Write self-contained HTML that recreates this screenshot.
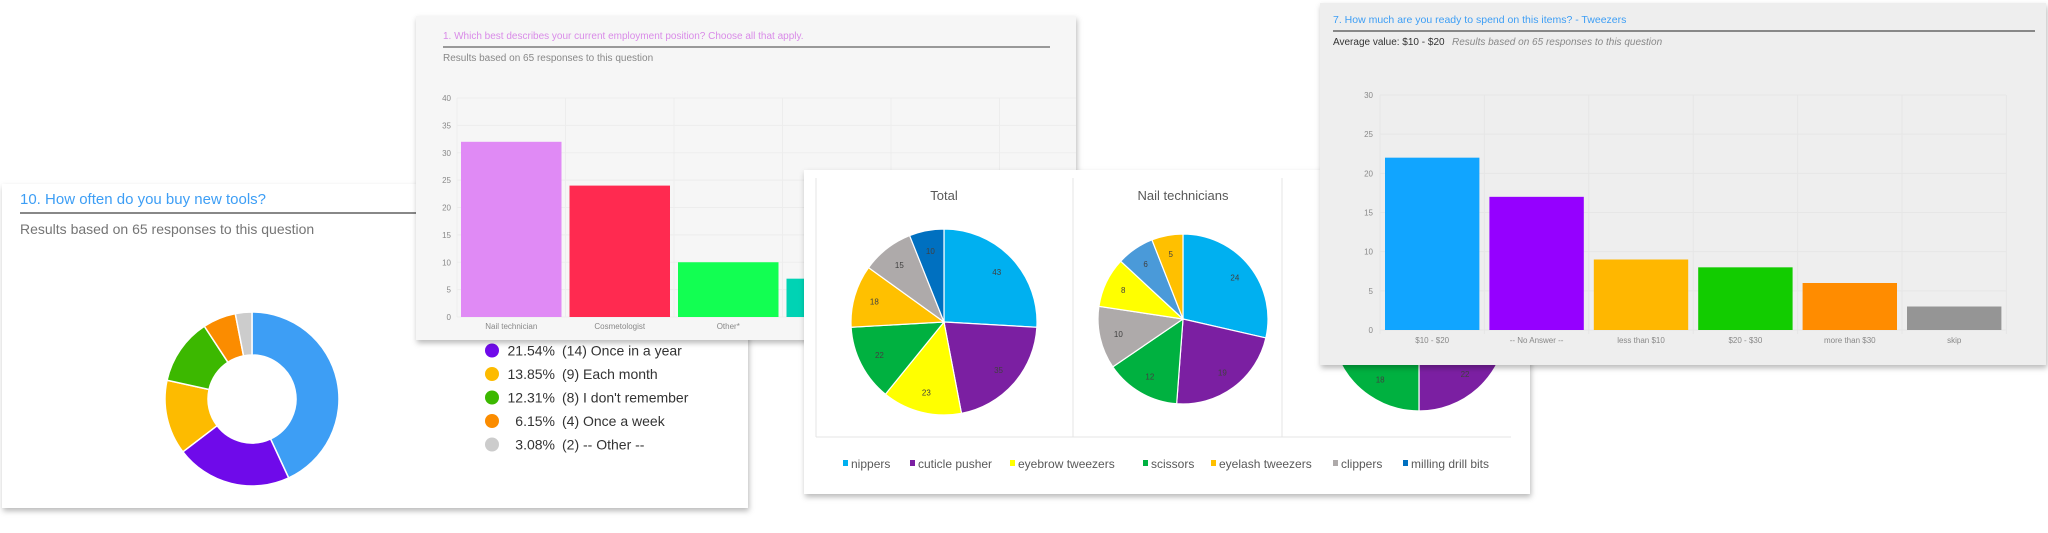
<!DOCTYPE html>
<html><head><meta charset="utf-8">
<style>
html,body{margin:0;padding:0;background:#fff;}
body{width:2048px;height:528px;overflow:hidden;position:relative;font-family:"Liberation Sans",sans-serif;}
svg text{font-family:"Liberation Sans",sans-serif;}
</style></head>
<body>
<svg id="stage" width="2048" height="528" viewBox="0 0 2048 528" xmlns="http://www.w3.org/2000/svg">
<defs>
<filter id="sh" x="-5%" y="-5%" width="110%" height="115%"><feDropShadow dx="1" dy="3" stdDeviation="3" flood-color="#000" flood-opacity="0.28"/></filter>
</defs>
</svg>
<script>
// ---- donut (panel A) ----
const donutLabels = ["-- blue --","Once in a year","Each month","I don't remember","Once a week","-- Other --"];
const donutCounts = [28,14,9,8,4,2];
const donutPcts = ["43.08%","21.54%","13.85%","12.31%","6.15%","3.08%"];
const donutColors = ["#3d9ef5","#6f0aea","#fdbb00","#3cb800","#fb8c00","#cccccc"];
// ---- bar chart B ----
const empCats = ["Nail technician","Cosmetologist","Other*","Student"];
const empVals = [32,24,10,7];
const empColors = ["#e08af5","#ff2a50","#12ff52","#00d3b4"];
const empTicks = [0,5,10,15,20,25,30,35,40];
// ---- pies (panel C) ----
const pieCats = ["nippers","cuticle pusher","eyebrow tweezers","scissors","eyelash tweezers","clippers","milling drill bits"];
const pieColors = {"nippers":"#00b0f0","cuticle pusher":"#7b1fa2","eyebrow tweezers":"#ffff00","scissors":"#00b140","eyelash tweezers":"#ffc000","clippers":"#aeaaaa","milling drill bits":"#0070c0"};
const totalOrder = ["nippers","cuticle pusher","eyebrow tweezers","scissors","eyelash tweezers","clippers","milling drill bits"];
const totalVals = [43,35,23,22,18,15,10];
const nailOrder = ["nippers","cuticle pusher","scissors","clippers","eyebrow tweezers","milling drill bits","eyelash tweezers"];
const nailVals = [24,19,12,10,8,6,5];
const cosOrder = ["nippers","cuticle pusher","scissors","clippers","eyebrow tweezers","eyelash tweezers","milling drill bits"];
const cosVals = [25,22,18,10,9,5,5];
// ---- bar chart D ----
const spendCats = ["$10 - $20","-- No Answer --","less than $10","$20 - $30","more than $30","skip"];
const spendVals = [22,17,9,8,6,3];
const spendColors = ["#11a5ff","#9500ff","#ffb700","#12cc00","#ff8c00","#959595"];
const spendTicks = [0,5,10,15,20,25,30];

const NS="http://www.w3.org/2000/svg";
const stage=document.getElementById('stage');
function mk(tag,attrs,parent,txt){const e=document.createElementNS(NS,tag);for(const k in attrs)e.setAttribute(k,attrs[k]);if(txt!==undefined)e.textContent=txt;(parent||stage).appendChild(e);return e;}
function grp(name,parent){const g=mk('g',{},parent);return g;}
function arcPath(cx,cy,r,ri,a0,a1){
  const p=(a,rr)=>[cx+rr*Math.sin(a),cy-rr*Math.cos(a)];
  const large=(a1-a0)>Math.PI?1:0;
  const [x0,y0]=p(a0,r),[x1,y1]=p(a1,r);
  if(ri<=0)return `M${cx},${cy}L${x0},${y0}A${r},${r} 0 ${large} 1 ${x1},${y1}Z`;
  const [x2,y2]=p(a1,ri),[x3,y3]=p(a0,ri);
  return `M${x0},${y0}A${r},${r} 0 ${large} 1 ${x1},${y1}L${x2},${y2}A${ri},${ri} 0 ${large} 0 ${x3},${y3}Z`;
}

// ===== Panel A =====
(function(){
  const g=grp('frequency-panel');
  const bg=mk('rect',{x:2,y:184,width:746,height:324,fill:'#fff',filter:'url(#sh)'},g);
  
  const t=mk('text',{x:20,y:204,'font-size':15,fill:'#3d9ef5'},g,'10. How often do you buy new tools?');
  
  mk('rect',{x:20,y:212,width:728,height:2,fill:'#888'},g);
  const s=mk('text',{x:20,y:234,'font-size':14,fill:'#757575'},g,'Results based on 65 responses to this question');
  
  const total=donutCounts.reduce((a,b)=>a+b,0);
  let a=0;const cx=252,cy=399;
  donutCounts.forEach((v,i)=>{
    const a1=a+v/total*2*Math.PI;
    const p=mk('path',{d:arcPath(cx,cy,87,44,a,a1),fill:donutColors[i],stroke:'#fff','stroke-width':1.5},g);
    
    
    a=a1;
  });
  for(let i=0;i<donutLabels.length;i++){
    const y=327+i*23.5;
    const lg=grp('legend-entry-'+i,g);
    mk('circle',{cx:492,cy:y,r:7,fill:donutColors[i]},lg);
    mk('text',{x:555,y:y+5,'font-size':14,fill:'#333','text-anchor':'end'},lg,donutPcts[i]);
    mk('text',{x:562,y:y+5,'font-size':14,fill:'#333'},lg,'('+donutCounts[i]+') '+donutLabels[i]);
  }
})();

// ===== Panel B =====
(function(){
  const g=grp('employment-panel');
  mk('rect',{x:416,y:16,width:660,height:324,fill:'#f6f6f6',filter:'url(#sh)'},g);
  const t=mk('text',{x:443,y:39,'font-size':10,fill:'#d98be8'},g,'1. Which best describes your current employment position? Choose all that apply.');
  
  mk('rect',{x:443,y:46,width:607,height:2,fill:'#999'},g);
  mk('text',{x:443,y:61,'font-size':10,fill:'#888'},g,'Results based on 65 responses to this question');
  const y0=317,y1=98,maxV=40,x0=457,step=108.5;
  const Y=v=>y0-(y0-y1)*v/maxV;
  empTicks.forEach(v=>{
    mk('line',{x1:x0,x2:1076,y1:Y(v),y2:Y(v),stroke:'#ededed','stroke-width':1},g);
    const tl=mk('text',{x:451,y:Y(v)+3,'font-size':8,fill:'#888','text-anchor':'end'},g,v);
    
  });
  for(let i=0;i<=5;i++)mk('line',{x1:x0+i*step,x2:x0+i*step,y1:y1,y2:y0,stroke:'#ededed'},g);
  empVals.forEach((v,i)=>{
    const b=mk('rect',{x:x0+i*step+4,y:Y(v),width:step-8,height:y0-Y(v),fill:empColors[i]},g);
    
    
    mk('text',{x:x0+i*step+step/2,y:329,'font-size':8,fill:'#888','text-anchor':'middle'},g,empCats[i]);
  });
})();

// ===== Panel C =====
(function(){
  const g=grp('pie-panel');
  mk('rect',{x:804,y:170,width:726,height:324,fill:'#fff',filter:'url(#sh)'},g);
  mk('line',{x1:816,y1:178,x2:816,y2:437,stroke:'#e4e4e4'},g);
  mk('line',{x1:816,y1:437,x2:1511,y2:437,stroke:'#e4e4e4'},g);
  mk('line',{x1:1073,y1:178,x2:1073,y2:437,stroke:'#e4e4e4'},g);
  mk('line',{x1:1282,y1:178,x2:1282,y2:437,stroke:'#e4e4e4'},g);
  function pie(name,title,cx,cy,r,order,vals,override){
    const pg=grp(name,g);
    mk('text',{x:cx,y:200,'font-size':13,fill:'#595959','text-anchor':'middle'},pg,title);
    const tot=vals.reduce((a,b)=>a+b,0);let a=0;
    vals.forEach((v,i)=>{
      const a1=a+v/tot*2*Math.PI;
      let col=pieColors[order[i]];if(override&&override[order[i]])col=override[order[i]];
      const p=mk('path',{d:arcPath(cx,cy,r,0,a,a1),fill:col,stroke:'#fff','stroke-width':1.2},pg);
      
      
      const m=(a+a1)/2;
      mk('text',{x:cx+r*0.78*Math.sin(m),y:cy-r*0.78*Math.cos(m)+3,'font-size':8,fill:'#404040','text-anchor':'middle'},pg,v);
      a=a1;
    });
  }
  pie('total-pie','Total',944,322,93,totalOrder,totalVals);
  pie('nail-pie','Nail technicians',1183,319,85,nailOrder,nailVals,{"milling drill bits":"#4a9ad9"});
  pie('cosmetologist-pie','Cosmetologists',1419,323,88,cosOrder,cosVals);
  const lx=[843,910,1010,1143,1211,1333,1403];
  pieCats.forEach((c,i)=>{
    const lg=grp('pie-legend-'+c.replace(/ /g,'-'),g);
    mk('rect',{x:lx[i],y:460,width:5,height:6,fill:pieColors[c]},lg);
    mk('text',{x:lx[i]+8,y:468,'font-size':12,fill:'#595959'},lg,c);
  });
})();

// ===== Panel D =====
(function(){
  const g=grp('spend-panel');
  mk('rect',{x:1320,y:3,width:726,height:362,fill:'#eeeeee',filter:'url(#sh)'},g);
  const t=mk('text',{x:1333,y:23,'font-size':10.5,fill:'#3d9ef5'},g,'7. How much are you ready to spend on this items? - Tweezers');
  
  mk('rect',{x:1333,y:30,width:702,height:2,fill:'#888'},g);
  mk('text',{x:1333,y:45,'font-size':10,fill:'#333'},g,'Average value: $10 - $20');
  mk('text',{x:1452,y:45,'font-size':10,fill:'#888','font-style':'italic'},g,'Results based on 65 responses to this question');
  const y0=330,y1=95,maxV=30,x0=1380,step=104.4;
  const Y=v=>y0-(y0-y1)*v/maxV;
  spendTicks.forEach(v=>{
    mk('line',{x1:x0,x2:2006,y1:Y(v),y2:Y(v),stroke:'#e6e6e6'},g);
    const tl=mk('text',{x:1373,y:Y(v)+3,'font-size':8,fill:'#888','text-anchor':'end'},g,v);
    
  });
  for(let i=0;i<=6;i++)mk('line',{x1:x0+i*step,x2:x0+i*step,y1:y1,y2:y0+4,stroke:'#e6e6e6'},g);
  spendVals.forEach((v,i)=>{
    const b=mk('rect',{x:x0+i*step+5,y:Y(v),width:step-10,height:y0-Y(v),fill:spendColors[i]},g);
    
    
    mk('text',{x:x0+i*step+step/2,y:343,'font-size':8,fill:'#888','text-anchor':'middle'},g,spendCats[i]);
  });
})();
</script>
</body></html>
